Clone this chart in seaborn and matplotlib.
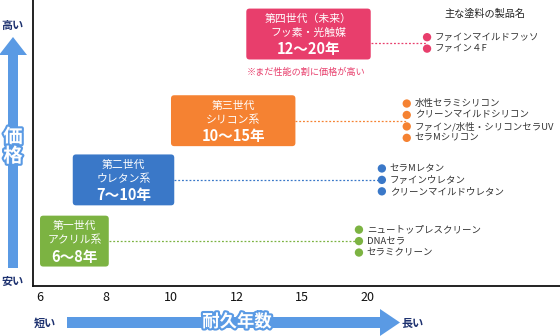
import numpy as np
import pandas as pd
import matplotlib
matplotlib.use("Agg")
import matplotlib.pyplot as plt
import seaborn as sns
from matplotlib.patches import FancyBboxPatch, FancyArrow
import matplotlib.patheffects as pe

sns.set_theme(style="white")
plt.rcParams['font.family'] = ['Noto Sans CJK JP', 'DejaVu Sans']

# ---------------- data ----------------
year_ticks = [6, 8, 10, 12, 15, 20]
generations = ["第一世代", "第二世代", "第三世代", "第四世代（未来）"]
gen_types = ["アクリル系", "ウレタン系", "シリコン系", "フッ素・光触媒"]
life_start = [6, 7, 10, 12]
life_end = [8, 10, 15, 20]
price_level = [15.7, 37.1, 57.8, 85.0]
products = [
    ["ニュートップレスクリーン", "DNAセラ", "セラミクリーン"],
    ["セラMレタン", "ファインウレタン", "クリーンマイルドウレタン"],
    ["水性セラミシリコン", "クリーンマイルドシリコン", "ファイン/水性・シリコンセラUV", "セラMシリコン"],
    ["ファインマイルドフッソ", "ファイン４F"],
]
note_text = "※まだ性能の割に価格が高い"
legend_title = "主な塗料の製品名"

# ---------------- style / layout ----------------
colors = ["#7CB342", "#3A78C8", "#F58232", "#E83E6C"]
list_x = [4.87, 5.22, 5.60, 5.91]
box_shift = [0, 0, 0, 3.1]
arrow_blue = "#5A9AE4"
navy = "#1E3270"

W, H = 560, 336
fig = plt.figure(figsize=(W / 100, H / 100), dpi=100)
ax = fig.add_axes([33 / W, (H - 286) / H, (W - 33) / W, 286 / H])
ax.set_xlim(-0.107, 7.94)
ax.set_ylim(0, 100)

idx = np.arange(len(year_ticks))
def yr2x(y):
    return np.interp(y, year_ticks, idx)

box_h = 17.8
spacing = 4.0
rows = []
for g in range(len(generations)):
    n = len(products[g])
    for k, name in enumerate(products[g]):
        rows.append(dict(gen=generations[g], name=name, x=list_x[g],
                         y=price_level[g] - (k - (n - 1) / 2) * spacing))
df = pd.DataFrame(rows)

for g in range(len(generations)):
    x0 = yr2x(life_start[g]) + 0.0
    x1 = yr2x(life_end[g]) + 0.05
    if g == 2:
        x1 -= 0.15
    if g == 3:
        x0 += 0.15
    yc = price_level[g] + box_shift[g]
    aspect = (100 / 286) / (8.047 / 527)
    p = FancyBboxPatch((x0, yc - box_h / 2), x1 - x0, box_h,
                       boxstyle="round,pad=0,rounding_size=0.05",
                       mutation_aspect=aspect, fc=colors[g], ec="none", zorder=3)
    ax.add_patch(p)
    xm = (x0 + x1) / 2
    ax.text(xm, yc + 5.3, generations[g], ha="center", va="center", color="white", fontsize=7.8, zorder=4)
    ax.text(xm, yc + 0.4, gen_types[g], ha="center", va="center", color="white", fontsize=7.8, zorder=4)
    ax.text(xm, yc - 5.4, f"{life_start[g]}〜{life_end[g]}年", ha="center", va="center",
            color="white", fontsize=10.5, fontweight="bold", zorder=4)
    sub = pd.DataFrame({"x": [x1, list_x[g]], "y": [price_level[g], price_level[g]]})
    sns.lineplot(data=sub, x="x", y="y", ax=ax, color=colors[g], linestyle=(0, (1.5, 1.5)),
                 linewidth=0.9, zorder=2)

sns.scatterplot(data=df, x="x", y="y", hue="gen", palette=dict(zip(generations, colors)),
                s=36, edgecolor="none", legend=False, ax=ax, zorder=5)
for _, r in df.iterrows():
    ax.text(r.x + 0.12, r.y, r["name"], ha="left", va="center", fontsize=6.8, color="#333333")

ax.text(yr2x(12) + 0.15, 74.8, note_text, ha="left", va="center", fontsize=6.6, color=colors[3])
ax.text(6.18, 95.0, legend_title, ha="left", va="center", fontsize=7.3, color="#222222")

ax.set_xticks(idx)
ax.set_xticklabels([str(v) for v in year_ticks], fontsize=9, color="#111111")
ax.set_yticks([])
ax.tick_params(axis="x", length=0, pad=3.5)
ax.set_xlabel("")
ax.set_ylabel("")
for s in ["top", "right"]:
    ax.spines[s].set_visible(False)
for s in ["left", "bottom"]:
    ax.spines[s].set_color("#111111")
    ax.spines[s].set_linewidth(1.3)

# overlay for arrows
ov = fig.add_axes([0, 0, 1, 1], zorder=-1)
ov.set_xlim(0, W)
ov.set_ylim(H, 0)
ov.axis("off")
ov.add_patch(FancyArrow(13, 268, 0, 37 - 268, width=10, head_width=28, head_length=18,
                        length_includes_head=True, fc=arrow_blue, ec="none"))
ov.add_patch(FancyArrow(67, 322.5, 400 - 67, 0, width=11, head_width=27, head_length=20,
                        length_includes_head=True, fc=arrow_blue, ec="none"))
stroke = [pe.withStroke(linewidth=3, foreground=arrow_blue)]
fig.text(13 / W, 1 - 147 / H, "価\n格", ha="center", va="center", fontsize=14, fontweight="bold",
         color="white", linespacing=1.0, path_effects=stroke)
fig.text(237 / W, 1 - 322 / H, "耐久年数", ha="center", va="center", fontsize=12.5, fontweight="bold",
         color="white", path_effects=stroke)
fig.text(13 / W, 1 - 25 / H, "高い", ha="center", va="center", fontsize=8, fontweight="bold", color=navy)
fig.text(13 / W, 1 - 281 / H, "安い", ha="center", va="center", fontsize=8, fontweight="bold", color=navy)
fig.text(45 / W, 1 - 323 / H, "短い", ha="center", va="center", fontsize=8, fontweight="bold", color=navy)
fig.text(413 / W, 1 - 323 / H, "長い", ha="center", va="center", fontsize=8, fontweight="bold", color=navy)

fig.savefig("out.png", dpi=100)
